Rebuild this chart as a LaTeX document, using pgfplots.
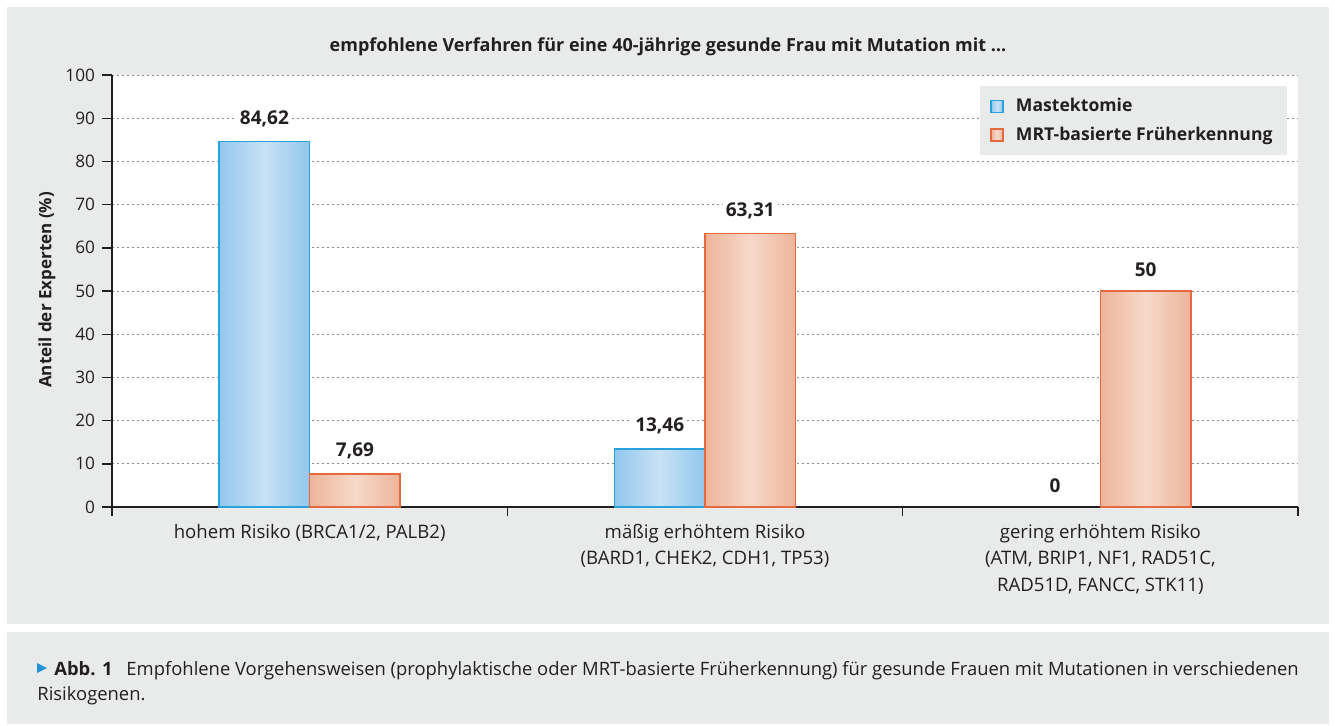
\documentclass[border=0pt]{standalone}
\usepackage{fontspec}
\setmainfont{Open Sans}
\usepackage{pgfplots}
\pgfplotsset{compat=1.18}
\definecolor{panel}{HTML}{E9EAEA}
\definecolor{textc}{HTML}{231F20}
\definecolor{blueborder}{HTML}{29A1DD}
\definecolor{blueedge}{HTML}{92C7ED}
\definecolor{bluecenter}{HTML}{C8E1F4}
\definecolor{orangeborder}{HTML}{E4693F}
\definecolor{orangeedge}{HTML}{EDB49A}
\definecolor{orangecenter}{HTML}{F6D9CA}
\definecolor{capblue}{HTML}{1E96D3}
\definecolor{gridc}{HTML}{8C8C8C}

\begin{document}
\color{textc}
\begin{tikzpicture}
\useasboundingbox (0,0) rectangle (667.5pt,362.5pt);
\fill[white] (0,0) rectangle (667.5pt,362.5pt);
\fill[panel] (3.5pt,50.5pt) rectangle (664.5pt,359pt);
\fill[panel] (3.5pt,0.5pt) rectangle (664.5pt,46.5pt);
\begin{axis}[
  at={(56pt,109pt)}, anchor=south west,
  scale only axis, width=593pt, height=216pt,
  xmin=-0.5, xmax=2.5, ymin=0, ymax=100,
  axis background/.style={fill=white},
  axis x line*=bottom, axis y line*=left,
  axis line style={-, draw=textc, line width=0.7pt},
  ybar, bar width=0.229,
  ytick={0,10,...,100},
  xtick={0,1,2},
  minor xtick={-0.5,0.5,1.5,2.5},
  every major x tick/.style={draw=none},
  tick align=outside,
  major tick length=5pt, minor tick length=4.5pt,
  tick style={draw=textc, line width=0.7pt},
  ymajorgrids,
  major grid style={draw=gridc, dash pattern=on 1pt off 1.5pt, line width=0.5pt},
  xticklabels={{hohem Risiko (BRCA1/2, PALB2)},{mäßig erhöhtem Risiko\\(BARD1, CHEK2, CDH1, TP53)},{gering erhöhtem Risiko\\(ATM, BRIP1, NF1, RAD51C,\\RAD51D, FANCC, STK11)}},
  xticklabel style={align=center, font=\fontsize{9.3}{13.25}\selectfont, text=textc},
  yticklabel style={font=\fontsize{8.6}{10}\selectfont, text=textc},
  /pgf/number format/assume math mode=true,
  /pgf/number format/use comma,
  nodes near coords,
  every node near coord/.append style={font=\bfseries\fontsize{9.5}{10}\selectfont, fill=white, inner sep=1.5pt, yshift=5.5pt, text=textc},
  legend style={at={(0.9907,0.9745)}, anchor=north east, fill=panel, draw=none,
    font=\bfseries\fontsize{8.8}{10}\selectfont, inner xsep=5pt, inner ysep=4pt, row sep=2pt,
    /tikz/every odd column/.append style={column sep=4pt}},
  legend cell align=left,
  legend image code/.code={\draw[#1] (0pt,-3pt) rectangle (6pt,3pt);},
  blue bar/.style={draw=blueborder, line width=0.8pt, left color=blueedge, right color=blueedge, middle color=bluecenter, bar shift=-0.1145},
  orange bar/.style={draw=orangeborder, line width=0.8pt, left color=orangeedge, right color=orangeedge, middle color=orangecenter, bar shift=0.1145},
]
% Mastektomie
\addplot[blue bar] coordinates {(0,84.62)};
% MRT-basierte Früherkennung
\addplot[orange bar] coordinates {(0,7.69)};
\addplot[blue bar, forget plot] coordinates {(1,13.46)};
\addplot[orange bar, forget plot] coordinates {(1,63.31)};
\addplot[draw=none, fill=none, bar shift=-0.1145, forget plot] coordinates {(2,0)};
\addplot[orange bar, forget plot] coordinates {(2,50)};
\legend{Mastektomie, MRT-basierte Früherkennung}
\end{axis}
\node[font=\bfseries\fontsize{9}{11}\selectfont] at (334pt,339pt) {empfohlene Verfahren für eine 40-jährige gesunde Frau mit Mutation mit …};
\node[rotate=90, font=\bfseries\fontsize{8.5}{10}\selectfont] at (23.5pt,217.5pt) {Anteil der Experten (\%)};
\fill[capblue] (18.5pt,31pt) -- (18.5pt,26pt) -- (23.5pt,28.5pt) -- cycle;
\node[anchor=base west, inner sep=0pt, font=\fontsize{9.2}{12}\selectfont] at (27pt,25pt) {\textbf{Abb. 1}\hspace{0.5em} Empfohlene Vorgehensweisen (prophylaktische oder MRT-basierte Früherkennung) für gesunde Frauen mit Mutationen in verschiedenen};
\node[anchor=base west, inner sep=0pt, font=\fontsize{9.2}{12}\selectfont] at (18.5pt,12.5pt) {Risikogenen.};
\end{tikzpicture}
\end{document}
